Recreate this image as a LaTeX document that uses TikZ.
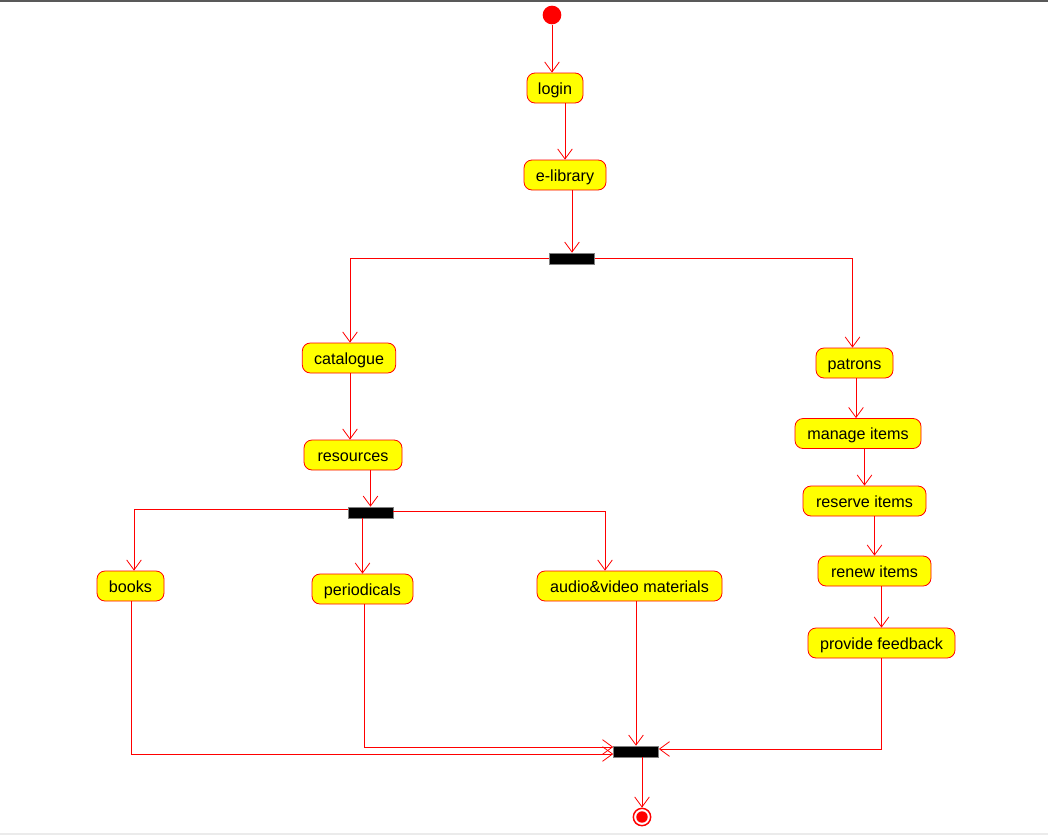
\documentclass[tikz,border=0pt]{standalone}
\usepackage{fontspec}
\setmainfont{Liberation Sans}
\usetikzlibrary{arrows.meta,calc}
\definecolor{umlred}{RGB}{255,0,0}
\definecolor{umlyellow}{RGB}{255,255,0}
\begin{document}
\begin{tikzpicture}[x=0.75pt,y=-0.75pt,
  act/.style={draw=umlred,fill=umlyellow,rounded corners=6pt,line width=0.6pt,
    minimum height=22.5pt,inner xsep=2pt,inner ysep=0pt,
    font=\fontsize{12.1}{14}\selectfont,text=black,
    text height=10pt,text depth=0.6pt},
  bar/.style={draw=gray,fill=black,line width=0.5pt,minimum width=33.75pt,
    minimum height=8.25pt,inner sep=0pt},
  flow/.style={draw=umlred,line width=0.6pt,
    -{Straight Barb[length=7.5pt,width=11pt,line width=0.6pt]}}]
% canvas and frame lines
\useasboundingbox (0,0) rectangle (1048,835);
\fill[white] (0,0) rectangle (1048,835);
\draw[black!65,line width=1.2pt] (0,0.8) -- (1048,0.8);
\draw[black!8,line width=0.8pt] (0,834) -- (1048,834);

% start and end
\node[circle,fill=umlred,minimum size=14pt,inner sep=0pt] (start) at (552,15) {};
\node[circle,draw=umlred,fill=white,line width=1.1pt,minimum size=13pt,inner sep=0pt] (end) at (642,817) {};
\fill[umlred] (end.center) circle (4.3pt);

% actions
\node[act,minimum width=42pt]     (login) at (555,88)  {login};
\node[act,minimum width=61.5pt]   (elib)  at (565,175) {e-library};
\node[bar]                        (fork1) at (572,258.5) {};
\node[act,minimum width=70pt]     (cat)   at (349,358) {catalogue};
\node[act,minimum width=73.5pt]   (res)   at (353,455) {resources};
\node[bar]                        (fork2) at (370.5,512.5) {};
\node[act,minimum width=50.25pt]  (books) at (130.5,586) {books};
\node[act,minimum width=75.75pt]  (per)   at (362.5,589) {periodicals};
\node[act,minimum width=138.75pt] (av)    at (629.5,586) {audio\&video materials};
\node[act,minimum width=57.75pt]  (pat)   at (854.5,363) {patrons};
\node[act,minimum width=94.5pt]   (man)   at (858,433.5) {manage items};
\node[act,minimum width=92.25pt]  (resv)  at (864.5,501) {reserve items};
\node[act,minimum width=84.75pt]  (ren)   at (874.5,571) {renew items};
\node[act,minimum width=110.25pt] (fb)    at (881.5,643) {provide feedback};
\node[bar]                        (join)  at (636,751.5) {};

% control flow
\draw[flow] (start.south) -- (start.south |- login.north);
\draw[flow] (login.south -| elib.north) -- (elib.north);
\draw[flow] (elib.south -| fork1.north) -- (fork1.north);
\draw[flow] (fork1.west) -| ($(cat.north)+(1,0)$);
\draw[flow] (fork1.east) -| ($(pat.north)+(-2,0)$);
\draw[flow] ($(cat.south)+(1,0)$) -- ($(cat.south |- res.north)+(1,0)$);
\draw[flow] (res.south -| fork2.north) -- (fork2.north);
\draw[flow] ($(fork2.west)+(0,-3)$) -| ($(books.north)+(3.5,0)$);
\draw[flow] (fork2.south -| per.north) -- (per.north);
\draw[flow] ($(fork2.east)+(0,-1)$) -| ($(av.north)+(-24.5,0)$);
\draw[flow] ($(pat.south)+(1.5,0)$) -- ($(pat.south |- man.north)+(1.5,0)$);
\draw[flow] (man.south -| resv.north) -- (resv.north);
\draw[flow] (resv.south -| ren.north) -- (ren.north);
\draw[flow] (ren.south -| fb.north) -- (fb.north);
\draw[flow] ($(books.south)+(1,0)$) |- ($(join.west)+(0,2.5)$);
\draw[flow] ($(per.south)+(1.5,0)$) |- ($(join.west)+(0,-4.5)$);
\draw[flow] (av.south -| join.north) -- (join.north);
\draw[flow] (fb.south) |- ($(join.east)+(0,-2.5)$);
\draw[flow] (join.south -| end.north) -- (end.north);
\end{tikzpicture}
\end{document}
